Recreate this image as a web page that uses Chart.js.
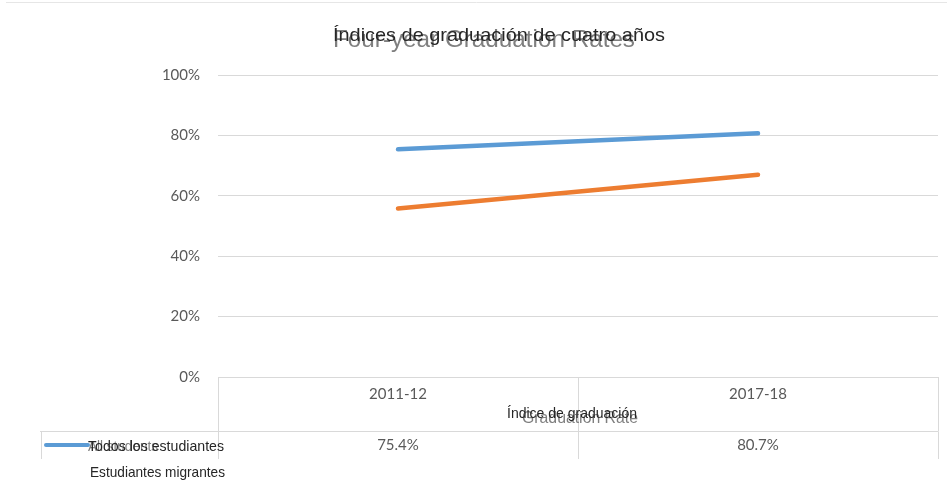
<!DOCTYPE html>
<html>
<head>
<meta charset="utf-8">
<script src="https://cdn.jsdelivr.net/npm/chart.js@4"></script>
<style>
  html, body { margin: 0; padding: 0; background: #fff; }
</style>
</head>
<body>
<canvas id="grafica" width="947" height="496"></canvas>
<script>
// datos
const categorias = ['2011-12', '2017-18'];
const todosEstudiantes = [75.4, 80.7];
const estudiantesMigrantes = [55.8, 67.0];
const ticksY = [0, 20, 40, 60, 80, 100];

const gris = '#595959';
const lineaTabla = '#d9d9d9';
const fuenteSolapada = '"Liberation Sans", Arial, sans-serif';

// dibuja texto ajustado a un ancho dado
function textoAncho(ctx, texto, x, y, ancho, tam, color) {
    ctx.save();
    ctx.font = tam + 'px ' + fuenteSolapada;
    ctx.fillStyle = color;
    ctx.textBaseline = 'alphabetic';
    ctx.textAlign = 'left';
    let w = ctx.measureText(texto).width;
    ctx.translate(x, y);
    ctx.scale(ancho / w, 1);
    ctx.fillText(texto, 0, 0);
    ctx.restore();
}

function linea(ctx, x1, y1, x2, y2, color, grosor) {
    ctx.beginPath();
    ctx.strokeStyle = color;
    ctx.lineWidth = grosor;
    ctx.moveTo(x1, y1);
    ctx.lineTo(x2, y2);
    ctx.stroke();
}

const tablaDatos = {
    id: 'tablaDatos',
    afterDraw(chart) {
        const ctx = chart.ctx;
        const a = chart.chartArea;
        const x = chart.scales.x;
        const medio = (a.left + a.right) / 2;

        ctx.save();
        // linea superior
        linea(ctx, 6, 2.5, 947, 2.5, '#e6e6e6', 1);

        // lineas de la tabla
        const yFila = 431.5;
        const yFin = 459;
        [a.left, medio, a.right].forEach(px => {
            linea(ctx, Math.round(px) + 0.5, a.bottom, Math.round(px) + 0.5, yFila, lineaTabla, 1);
        });
        linea(ctx, 40, yFila, a.right, yFila, lineaTabla, 1);
        [40.5, a.left, medio, a.right].forEach(px => {
            linea(ctx, Math.round(px) + 0.5, yFila, Math.round(px) + 0.5, yFin, lineaTabla, 1);
        });

        // titulo
        textoAncho(ctx, 'Four-year Graduation Rates', 333, 47, 302, 23, '#7f7f7f');
        textoAncho(ctx, 'Índices de graduación de cuatro años', 333, 41, 332, 19, '#262626');

        // titulo del eje
        textoAncho(ctx, 'Graduation Rate', 522, 423, 116, 16, '#7f7f7f');
        textoAncho(ctx, 'Índice de graduación', 507, 418, 130, 15, '#262626');

        // leyenda
        ctx.lineCap = 'round';
        linea(ctx, 46, 445, 88, 445, '#5b9bd5', 4);
        textoAncho(ctx, 'All students', 88, 451, 70, 15, '#7f7f7f');
        textoAncho(ctx, 'Todos los estudiantes', 88, 451, 136, 15, '#262626');
        textoAncho(ctx, 'Estudiantes migrantes', 90, 477, 135, 15, '#262626');

        // valores
        ctx.font = '15px Lato';
        ctx.fillStyle = gris;
        ctx.textAlign = 'center';
        ctx.textBaseline = 'middle';
        todosEstudiantes.forEach((v, i) => {
            ctx.fillText(v.toFixed(1) + '%', x.getPixelForValue(i), 445);
        });
        ctx.restore();
    }
};

new Chart(document.getElementById('grafica'), {
    type: 'line',
    data: {
        labels: categorias,
        datasets: [{
            label: 'Todos los estudiantes',
            data: todosEstudiantes,
            borderColor: '#5b9bd5',
            borderWidth: 4.5,
            pointRadius: 0,
            borderCapStyle: 'round'
        }, {
            label: 'Estudiantes migrantes',
            data: estudiantesMigrantes,
            borderColor: '#ed7d31',
            borderWidth: 4.5,
            pointRadius: 0,
            borderCapStyle: 'round'
        }]
    },
    options: {
        responsive: false,
        animation: false,
        layout: { padding: { top: 75, right: 9, bottom: 0, left: 0 } },
        plugins: {
            legend: { display: false },
            title: { display: false },
            tooltip: { enabled: false }
        },
        scales: {
            x: {
                offset: true,
                grid: { display: false },
                border: { display: false },
                ticks: { color: gris, font: { family: 'Lato', size: 15 }, padding: 0 },
                afterFit: s => { s.height = 119; }
            },
            y: {
                min: 0,
                max: 100,
                afterBuildTicks: s => { s.ticks = ticksY.map(v => ({ value: v })); },
                grid: { color: lineaTabla, drawTicks: false },
                border: { display: false },
                ticks: {
                    color: gris,
                    font: { family: 'Lato', size: 15 },
                    padding: 18,
                    callback: v => v + '%'
                },
                afterFit: s => { s.width = 218; }
            }
        }
    },
    plugins: [tablaDatos]
});
</script>
</body>
</html>
